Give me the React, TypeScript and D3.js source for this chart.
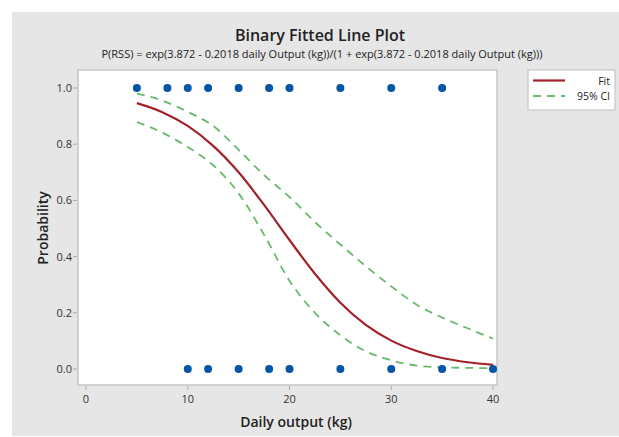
import * as React from "react";
import * as d3 from "d3";

// observations (response 1 = top row, 0 = bottom row)
const eventX = [5, 8, 10, 12, 15, 18, 20, 25, 30, 35];
const nonEventX = [10, 12, 15, 18, 20, 25, 30, 35, 40];

// fitted probability and 95% CI
const curveX = [5, 7.5, 10, 12.5, 15, 17.5, 20, 22.5, 25, 27.5, 30, 32.5, 35, 37.5, 40];
const fitP = [0.946, 0.914, 0.865, 0.794, 0.7, 0.584, 0.459, 0.339, 0.236, 0.157, 0.101, 0.064, 0.039, 0.024, 0.015];
const upperP = [0.98, 0.955, 0.915, 0.865, 0.78, 0.69, 0.612, 0.523, 0.443, 0.366, 0.294, 0.229, 0.183, 0.145, 0.108];
const lowerP = [0.879, 0.841, 0.79, 0.725, 0.625, 0.478, 0.314, 0.2, 0.12, 0.063, 0.031, 0.012, 0.006, 0.004, 0.003];

const xTicks = [0, 10, 20, 30, 40];
const yTicks = [0, 0.2, 0.4, 0.6, 0.8, 1.0];

const FONT = "'Open Sans', 'Noto Sans', sans-serif";
const FIT_COLOR = "#a3222a";
const CI_COLOR = "#6ab86e";
const DOT_COLOR = "#0455a8";

export default function App() {
  const W = 619, H = 437;
  const box = { left: 78, right: 497, top: 70, bottom: 385 };

  const x = d3.scaleLinear().domain([0, 40]).range([86, 493]);
  const y = d3.scaleLinear().domain([0, 1]).range([369, 88]);

  const line = d3.line<number>()
    .x((_, i) => x(curveX[i]))
    .y((d) => y(d))
    .curve(d3.curveMonotoneX);

  return (
    <svg width={W} height={H} style={{ position: "absolute", left: 0, top: 0 }} fontFamily={FONT}>
      <rect x={0} y={0} width={W} height={H} fill="#ffffff" />
      <rect x={12} y={12} width={W - 12} height={H - 13} fill="#e6e6e6" />

      <text x={320} y={41} textAnchor="middle" fontSize={16} fontWeight={600} fill="#222">
        Binary Fitted Line Plot
      </text>
      <text x={322} y={58} textAnchor="middle" fontSize={11} fill="#222">
        P(RSS) = exp(3.872 - 0.2018 daily Output (kg))/(1 + exp(3.872 - 0.2018 daily Output (kg)))
      </text>

      <rect x={box.left} y={box.top} width={box.right - box.left} height={box.bottom - box.top}
        fill="#ffffff" stroke="#c6c6c6" strokeWidth={1.5} />

      {xTicks.map((t) => (
        <g key={"x" + t}>
          <line x1={x(t)} x2={x(t)} y1={box.bottom + 1} y2={box.bottom + 5} stroke="#aaa" />
          <text x={x(t)} y={403} textAnchor="middle" fontSize={11} fill="#333">{t}</text>
        </g>
      ))}
      {yTicks.map((t) => (
        <g key={"y" + t}>
          <line x1={box.left - 5} x2={box.left - 1} y1={y(t)} y2={y(t)} stroke="#aaa" />
          <text x={72} y={y(t) + 4} textAnchor="end" fontSize={11} fill="#333">{t.toFixed(1)}</text>
        </g>
      ))}

      <text x={296} y={427} textAnchor="middle" fontSize={14} fontWeight={600} fill="#222">
        Daily output (kg)
      </text>
      <text transform="translate(48,228) rotate(-90)" textAnchor="middle" fontSize={14} fontWeight={600} fill="#222">
        Probability
      </text>

      <path d={line(upperP) || ""} fill="none" stroke={CI_COLOR} strokeWidth={1.8} strokeDasharray="8,6" />
      <path d={line(lowerP) || ""} fill="none" stroke={CI_COLOR} strokeWidth={1.8} strokeDasharray="8,6" />
      <path d={line(fitP) || ""} fill="none" stroke={FIT_COLOR} strokeWidth={2.2} />

      {eventX.map((v, i) => (
        <circle key={"e" + i} cx={x(v)} cy={y(1)} r={4} fill={DOT_COLOR} />
      ))}
      {nonEventX.map((v, i) => (
        <circle key={"n" + i} cx={x(v)} cy={y(0)} r={4} fill={DOT_COLOR} />
      ))}

      <rect x={528} y={70} width={87} height={40} fill="#ffffff" stroke="#c6c6c6" strokeWidth={1.2} />
      <line x1={533} x2={565} y1={80.5} y2={80.5} stroke={FIT_COLOR} strokeWidth={2.2} />
      <text x={610} y={84.5} textAnchor="end" fontSize={10.5} fill="#222">Fit</text>
      <line x1={533} x2={565} y1={96} y2={96} stroke={CI_COLOR} strokeWidth={1.8} strokeDasharray="8,6" />
      <text x={610} y={100} textAnchor="end" fontSize={10.5} fill="#222">95% CI</text>
    </svg>
  );
}
